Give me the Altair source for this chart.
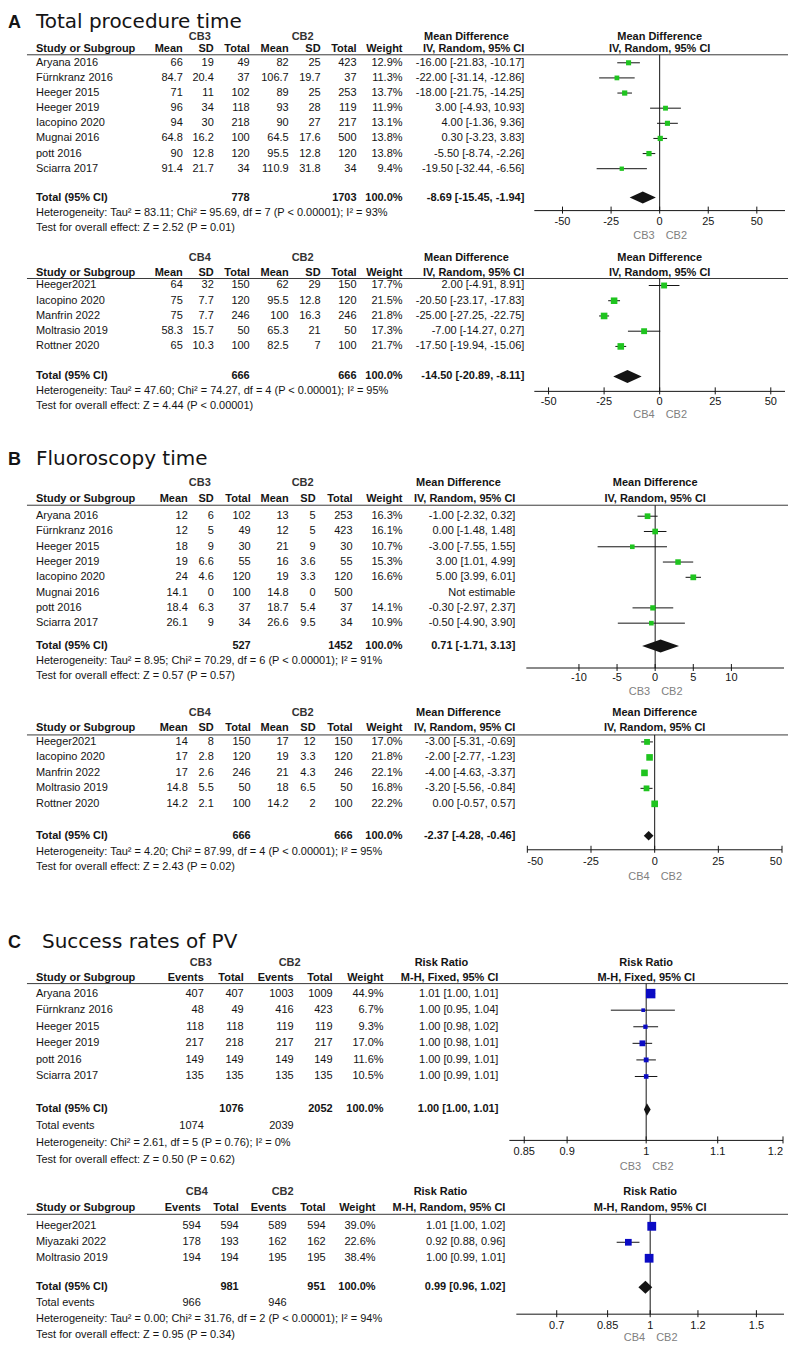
import altair as alt
import pandas as pd

# ---------------- style ----------------
FONT = "Liberation Sans"
TFONT = "DejaVu Sans"
INK = "#141414"
GREEN = "#1fc41f"
BLUE = "#0b0bc4"
GREY = "#808080"
W = 781      # width of every block (px)
P0 = 8       # page margin; layout constants below are page pixels

# ======================= DATA =======================
# ---- A upper: CB3 vs CB2, total procedure time ----
A1_study = ["Aryana 2016", "Fürnkranz 2016", "Heeger 2015", "Heeger 2019",
            "Iacopino 2020", "Mugnai 2016", "pott 2016", "Sciarra 2017"]
A1_m1 = [66, 84.7, 71, 96, 94, 64.8, 90, 91.4]
A1_sd1 = [19, 20.4, 11, 34, 30, 16.2, 12.8, 21.7]
A1_n1 = [49, 37, 102, 118, 218, 100, 120, 34]
A1_m2 = [82, 106.7, 89, 93, 90, 64.5, 95.5, 110.9]
A1_sd2 = [25, 19.7, 25, 28, 27, 17.6, 12.8, 31.8]
A1_n2 = [423, 37, 253, 119, 217, 500, 120, 34]
A1_w = [12.9, 11.3, 13.7, 11.9, 13.1, 13.8, 13.8, 9.4]
A1_md = [-16.00, -22.00, -18.00, 3.00, 4.00, 0.30, -5.50, -19.50]
A1_lo = [-21.83, -31.14, -21.75, -4.93, -1.36, -3.23, -8.74, -32.44]
A1_hi = [-10.17, -12.86, -14.25, 10.93, 9.36, 3.83, -2.26, -6.56]
A1_tot = [778, 1703]
A1_pool = [-8.69, -15.45, -1.94]
A1_het = "Heterogeneity: Tau² = 83.11; Chi² = 95.69, df = 7 (P < 0.00001); I² = 93%"
A1_test = "Test for overall effect: Z = 2.52 (P = 0.01)"

# ---- A lower: CB4 vs CB2 ----
A2_study = ["Heeger2021", "Iacopino 2020", "Manfrin 2022", "Moltrasio 2019", "Rottner 2020"]
A2_m1 = [64, 75, 75, 58.3, 65]
A2_sd1 = [32, 7.7, 7.7, 15.7, 10.3]
A2_n1 = [150, 120, 246, 50, 100]
A2_m2 = [62, 95.5, 100, 65.3, 82.5]
A2_sd2 = [29, 12.8, 16.3, 21, 7]
A2_n2 = [150, 120, 246, 50, 100]
A2_w = [17.7, 21.5, 21.8, 17.3, 21.7]
A2_md = [2.00, -20.50, -25.00, -7.00, -17.50]
A2_lo = [-4.91, -23.17, -27.25, -14.27, -19.94]
A2_hi = [8.91, -17.83, -22.75, 0.27, -15.06]
A2_tot = [666, 666]
A2_pool = [-14.50, -20.89, -8.11]
A2_het = "Heterogeneity: Tau² = 47.60; Chi² = 74.27, df = 4 (P < 0.00001); I² = 95%"
A2_test = "Test for overall effect: Z = 4.44 (P < 0.00001)"

A_ticks = [-50, -25, 0, 25, 50]
A_tick_labels = ["-50", "-25", "0", "25", "50"]

# ---- B upper: CB3 vs CB2, fluoroscopy time ----
B1_study = ["Aryana 2016", "Fürnkranz 2016", "Heeger 2015", "Heeger 2019",
            "Iacopino 2020", "Mugnai 2016", "pott 2016", "Sciarra 2017"]
B1_m1 = [12, 12, 18, 19, 24, 14.1, 18.4, 26.1]
B1_sd1 = [6, 5, 9, 6.6, 4.6, 0, 6.3, 9]
B1_n1 = [102, 49, 30, 55, 120, 100, 37, 34]
B1_m2 = [13, 12, 21, 16, 19, 14.8, 18.7, 26.6]
B1_sd2 = [5, 5, 9, 3.6, 3.3, 0, 5.4, 9.5]
B1_n2 = [253, 423, 30, 55, 120, 500, 37, 34]
B1_w = [16.3, 16.1, 10.7, 15.3, 16.6, None, 14.1, 10.9]
B1_md = [-1.00, 0.00, -3.00, 3.00, 5.00, None, -0.30, -0.50]
B1_lo = [-2.32, -1.48, -7.55, 1.01, 3.99, None, -2.97, -4.90]
B1_hi = [0.32, 1.48, 1.55, 4.99, 6.01, None, 2.37, 3.90]
B1_tot = [527, 1452]
B1_pool = [0.71, -1.71, 3.13]
B1_het = "Heterogeneity: Tau² = 8.95; Chi² = 70.29, df = 6 (P < 0.00001); I² = 91%"
B1_test = "Test for overall effect: Z = 0.57 (P = 0.57)"
B1_ticks = [-10, -5, 0, 5, 10]
B1_tick_labels = ["-10", "-5", "0", "5", "10"]

# ---- B lower: CB4 vs CB2 ----
B2_study = ["Heeger2021", "Iacopino 2020", "Manfrin 2022", "Moltrasio 2019", "Rottner 2020"]
B2_m1 = [14, 17, 17, 14.8, 14.2]
B2_sd1 = [8, 2.8, 2.6, 5.5, 2.1]
B2_n1 = [150, 120, 246, 50, 100]
B2_m2 = [17, 19, 21, 18, 14.2]
B2_sd2 = [12, 3.3, 4.3, 6.5, 2]
B2_n2 = [150, 120, 246, 50, 100]
B2_w = [17.0, 21.8, 22.1, 16.8, 22.2]
B2_md = [-3.00, -2.00, -4.00, -3.20, 0.00]
B2_lo = [-5.31, -2.77, -4.63, -5.56, -0.57]
B2_hi = [-0.69, -1.23, -3.37, -0.84, 0.57]
B2_tot = [666, 666]
B2_pool = [-2.37, -4.28, -0.46]
B2_het = "Heterogeneity: Tau² = 4.20; Chi² = 87.99, df = 4 (P < 0.00001); I² = 95%"
B2_test = "Test for overall effect: Z = 2.43 (P = 0.02)"

# ---- C upper: CB3 vs CB2, success rates of PV ----
C1_study = ["Aryana 2016", "Fürnkranz 2016", "Heeger 2015", "Heeger 2019", "pott 2016", "Sciarra 2017"]
C1_e1 = [407, 48, 118, 217, 149, 135]
C1_n1 = [407, 49, 118, 218, 149, 135]
C1_e2 = [1003, 416, 119, 217, 149, 135]
C1_n2 = [1009, 423, 119, 217, 149, 135]
C1_w = [44.9, 6.7, 9.3, 17.0, 11.6, 10.5]
C1_rr = [1.01, 1.00, 1.00, 1.00, 1.00, 1.00]
C1_rr_lo = [1.00, 0.95, 0.98, 0.98, 0.99, 0.99]
C1_rr_hi = [1.01, 1.04, 1.02, 1.01, 1.01, 1.01]
C1_pt = [1.006, 0.996, 0.999, 0.995, 1.000, 1.000]        # as drawn
C1_pt_lo = [1.000, 0.954, 0.983, 0.982, 0.987, 0.985]
C1_pt_hi = [1.012, 1.039, 1.016, 1.008, 1.013, 1.015]
C1_tot = [1076, 2052]
C1_events = [1074, 2039]
C1_pool = [1.00, 1.00, 1.01]
C1_pool_pt = [1.001, 0.997, 1.006]
C1_het = "Heterogeneity: Chi² = 2.61, df = 5 (P = 0.76); I² = 0%"
C1_test = "Test for overall effect: Z = 0.50 (P = 0.62)"
C1_ticks = [0.85, 0.9, 1, 1.1, 1.2]
C1_tick_labels = ["0.85", "0.9", "1", "1.1", "1.2"]

# ---- C lower: CB4 vs CB2 ----
C2_study = ["Heeger2021", "Miyazaki 2022", "Moltrasio 2019"]
C2_e1 = [594, 178, 194]
C2_n1 = [594, 193, 194]
C2_e2 = [589, 162, 195]
C2_n2 = [594, 162, 195]
C2_w = [39.0, 22.6, 38.4]
C2_rr = [1.01, 0.92, 1.00]
C2_rr_lo = [1.00, 0.88, 0.99]
C2_rr_hi = [1.02, 0.96, 1.01]
C2_pt = [1.006, 0.92, 0.996]
C2_pt_lo = [1.00, 0.88, 0.99]
C2_pt_hi = [1.02, 0.96, 1.01]
C2_tot = [981, 951]
C2_events = [966, 946]
C2_pool = [0.99, 0.96, 1.02]
C2_pool_pt = [0.982, 0.956, 1.008]
C2_het = "Heterogeneity: Tau² = 0.00; Chi² = 31.76, df = 2 (P < 0.00001); I² = 94%"
C2_test = "Test for overall effect: Z = 0.95 (P = 0.34)"
C2_ticks = [0.7, 0.85, 1, 1.2, 1.5]
C2_tick_labels = ["0.7", "0.85", "1", "1.2", "1.5"]

# ======================= LAYOUT (page px) =======================
LA1 = dict(top=8, bot=242, first=62, step=15.15, title=27, group=36.5, colhdr=48, line=54,
           total=197, het=212, test=227, axis=210, ticks=221, cblab=235)
LA2 = dict(top=242, bot=432, first=285, step=15.25, group=257, colhdr=272, line=278,
           total=376, het=391, test=406, axis=391, ticks=402, cblab=415)
LB1 = dict(top=432, bot=700, first=516, step=15.3, title=464.5, group=483, colhdr=499, line=505,
           total=646, het=661, test=676, axis=668, ticks=678, cblab=692)
LB2 = dict(top=700, bot=920, first=742, step=15.5, group=713, colhdr=728, line=735,
           total=836, het=852, test=867, axis=850, ticks=862, cblab=877)
LC1 = dict(top=920, bot=1180, first=994, step=16.6, title=948.5, group=963, colhdr=978, line=984,
           total=1110, tevents=1127, het=1144, test=1161, axis=1141, ticks=1153, cblab=1168)
LC2 = dict(top=1180, bot=1345, first=1227, step=16, group=1193, colhdr=1209, line=1215,
           total=1288, tevents=1304, het=1320, test=1336, axis=1315, ticks=1327, cblab=1339)

CA = dict(study=36, m1=183, sd1=214, n1=250, m2=289, sd2=321, n2=357, w=403, ci=525,
          g1=200, g2=303, lh=467, letter=8, title=36)
CB = dict(study=36, m1=188, sd1=214, n1=251, m2=289, sd2=316, n2=353, w=403, ci=516,
          g1=200, g2=303, lh=459, letter=8, title=36)
CC1 = dict(study=36, e1=204, n1=244, e2=294, n2=333, w=384, ci=499, g1=201, g2=290, lh=442,
           letter=8, title=42)
CC2 = dict(study=36, e1=201, n1=239, e2=287, n2=326, w=376, ci=506, g1=197, g2=283, lh=441)


# ======================= helpers =======================
def fmt(v):
    return f"{v:g}"


def ci_txt(e, l, h):
    return f"{e:.2f} [{l:.2f}, {h:.2f}]"


def ry(L, y):
    return (y - L["first"]) / L["step"]


def add(items, x, y, t, align="right", bold=False, size=11, color=INK, font=FONT,
        baseline="middle", dx=0):
    items.append(dict(x=x, y=y, t=str(t), align=align, bold=bold, size=size, color=color,
                      font=font, baseline=baseline, dx=dx))


def text_layers(items, xs, ys):
    groups = {}
    for it in items:
        key = (it["align"], it["bold"], it["size"], it["color"], it["font"], it["baseline"], it["dx"])
        groups.setdefault(key, []).append(it)
    out = []
    for (al, b, s, c, f, bl, dx), its in groups.items():
        df = pd.DataFrame({"x": [i["x"] for i in its], "y": [i["y"] for i in its],
                           "t": [i["t"] for i in its]})
        out.append(alt.Chart(df).mark_text(
            align=al, baseline=bl, font=f, fontSize=s,
            fontWeight="bold" if b else "normal", color=c, dx=dx).encode(
            x=alt.X("x:Q", scale=xs, axis=None),
            y=alt.Y("y:Q", scale=ys, axis=None),
            text="t:N"))
    return out


def title_items(it, L, C, title):
    add(it, C["letter"], ry(L, L["title"]), title[0], "left", True, 18, baseline="alphabetic")
    add(it, C["title"], ry(L, L["title"]), title[1], "left", False, 20, font=TFONT,
        baseline="alphabetic")


def md_table(L, C, grp, study, m1, sd1, n1, m2, sd2, n2, w, md, lo, hi, tot, pool, het, test,
             title=None):
    it = []
    if title:
        title_items(it, L, C, title)
    g = ry(L, L["group"])
    add(it, C["g1"], g, grp[0], "center", True, color="#333333")
    add(it, C["g2"], g, grp[1], "center", True, color="#333333")
    add(it, C["lh"], g, "Mean Difference", "center", True)
    h = ry(L, L["colhdr"])
    add(it, C["study"], h, "Study or Subgroup", "left", True)
    for k, lab in zip(["m1", "sd1", "n1", "m2", "sd2", "n2", "w", "ci"],
                      ["Mean", "SD", "Total", "Mean", "SD", "Total", "Weight", "IV, Random, 95% CI"]):
        add(it, C[k], h, lab, bold=True)
    for i, s in enumerate(study):
        add(it, C["study"], i, s, "left")
        for k, arr in zip(["m1", "sd1", "n1", "m2", "sd2", "n2"], [m1, sd1, n1, m2, sd2, n2]):
            add(it, C[k], i, fmt(arr[i]))
        if md[i] is None:
            add(it, C["ci"], i, "Not estimable")
        else:
            add(it, C["w"], i, f"{w[i]:.1f}%")
            add(it, C["ci"], i, ci_txt(md[i], lo[i], hi[i]))
    t = ry(L, L["total"])
    add(it, C["study"], t, "Total (95% CI)", "left", True)
    add(it, C["n1"], t, tot[0], bold=True)
    add(it, C["n2"], t, tot[1], bold=True)
    add(it, C["w"], t, "100.0%", bold=True)
    add(it, C["ci"], t, ci_txt(*pool), bold=True)
    add(it, C["study"], ry(L, L["het"]), het, "left")
    add(it, C["study"], ry(L, L["test"]), test, "left")
    return it


def rr_table(L, C, grp, method, study, e1, n1, e2, n2, w, rr, lo, hi, tot, events, pool, het,
             test, title=None):
    it = []
    if title:
        title_items(it, L, C, title)
    g = ry(L, L["group"])
    add(it, C["g1"], g, grp[0], "center", True, color="#333333")
    add(it, C["g2"], g, grp[1], "center", True, color="#333333")
    add(it, C["lh"], g, "Risk Ratio", "center", True)
    h = ry(L, L["colhdr"])
    add(it, C["study"], h, "Study or Subgroup", "left", True)
    for k, lab in zip(["e1", "n1", "e2", "n2", "w", "ci"],
                      ["Events", "Total", "Events", "Total", "Weight", method]):
        add(it, C[k], h, lab, bold=True)
    for i, s in enumerate(study):
        add(it, C["study"], i, s, "left")
        for k, arr in zip(["e1", "n1", "e2", "n2"], [e1, n1, e2, n2]):
            add(it, C[k], i, fmt(arr[i]))
        add(it, C["w"], i, f"{w[i]:.1f}%")
        add(it, C["ci"], i, ci_txt(rr[i], lo[i], hi[i]))
    t = ry(L, L["total"])
    add(it, C["study"], t, "Total (95% CI)", "left", True)
    add(it, C["n1"], t, tot[0], bold=True)
    add(it, C["n2"], t, tot[1], bold=True)
    add(it, C["w"], t, "100.0%", bold=True)
    add(it, C["ci"], t, ci_txt(*pool), bold=True)
    te = ry(L, L["tevents"])
    add(it, C["study"], te, "Total events", "left")
    add(it, C["e1"], te, events[0])
    add(it, C["e2"], te, events[1])
    add(it, C["study"], ry(L, L["het"]), het, "left")
    add(it, C["study"], ry(L, L["test"]), test, "left")
    return it


def make_block(L, items, F):
    ys = alt.Scale(domain=[ry(L, L["top"]), ry(L, L["bot"])], reverse=True, nice=False, zero=False)
    xt = alt.Scale(domain=[P0, P0 + W], range=[0, W], nice=False, zero=False)
    hl = pd.DataFrame({"x": [27], "x2": [P0 + W], "y": [ry(L, L["line"])]})
    table = alt.layer(
        alt.Chart(hl).mark_rule(color="#3a3a3a", strokeWidth=1).encode(
            x=alt.X("x:Q", scale=xt, axis=None), x2="x2:Q",
            y=alt.Y("y:Q", scale=ys, axis=None)),
        *text_layers(items, xt, ys))

    xf = alt.Scale(type=F["type"], domain=F["domain"],
                   range=[F["range"][0] - P0, F["range"][1] - P0], nice=False, zero=False)

    def X(f):
        return alt.X(f, scale=xf, axis=None)

    def Y(f):
        return alt.Y(f, scale=ys, axis=None)

    n = len(F["est"])
    pts = pd.DataFrame({"y": list(range(n)), "est": F["est"], "lo": F["lo"], "hi": F["hi"],
                        "w": F["w"]}).dropna()
    ref = pd.DataFrame({"x": [F["ref"]], "y": [ry(L, L["line"])], "y2": [ry(L, L["axis"])]})
    e, l, h = F["pool"]
    yt = ry(L, L["total"])
    hh = F["dh"] / L["step"]
    dia = pd.DataFrame({"x": [l, e, h], "y": [yt, yt - hh, yt], "y2": [yt, yt + hh, yt]})
    d0, d1 = F["domain"]
    ax = pd.DataFrame({"x": [d0], "x2": [d1], "y": [ry(L, L["axis"])]})
    k = len(F["ticks"])
    tk = pd.DataFrame({"x": F["ticks"], "y": [ry(L, L["axis"] - 4)] * k,
                       "y2": [ry(L, L["axis"] + 3)] * k})

    fi = []
    add(fi, F["ref"], ry(L, L["group"]), F["head"][0], "center", True)
    add(fi, F["ref"], ry(L, L["colhdr"]), F["head"][1], "center", True)
    for v, lab in zip(F["ticks"], F["tick_labels"]):
        al = "left" if v == d0 else ("right" if v == d1 else "center")
        add(fi, v, ry(L, L["ticks"]), lab, al)
    add(fi, F["ref"], ry(L, L["cblab"]), F["side"][0], "right", color=GREY, dx=-5)
    add(fi, F["ref"], ry(L, L["cblab"]), F["side"][1], "left", color=GREY, dx=6)

    forest = alt.layer(
        alt.Chart(ref).mark_rule(color=INK, strokeWidth=1).encode(x=X("x:Q"), y=Y("y:Q"), y2="y2:Q"),
        alt.Chart(pts).mark_rule(color=INK, strokeWidth=1).encode(x=X("lo:Q"), x2="hi:Q", y=Y("y:Q")),
        alt.Chart(pts).mark_square(filled=True, opacity=1, color=F["color"]).encode(
            x=X("est:Q"), y=Y("y:Q"),
            size=alt.Size("w:Q", scale=alt.Scale(domain=[0, 100], range=[0, F["S"]]), legend=None)),
        alt.Chart(dia).mark_area(color=INK, opacity=1, orient="vertical").encode(
            x=X("x:Q"), y=Y("y:Q"), y2="y2:Q"),
        alt.Chart(ax).mark_rule(color=INK, strokeWidth=1).encode(x=X("x:Q"), x2="x2:Q", y=Y("y:Q")),
        alt.Chart(tk).mark_rule(color=INK, strokeWidth=1).encode(x=X("x:Q"), y=Y("y:Q"), y2="y2:Q"),
        *text_layers(fi, xf, ys))

    return alt.layer(table, forest).resolve_scale(x="independent").properties(
        width=W, height=L["bot"] - L["top"])


MD_HEAD = ("Mean Difference", "IV, Random, 95% CI")

bA1 = make_block(
    LA1,
    md_table(LA1, CA, ("CB3", "CB2"), A1_study, A1_m1, A1_sd1, A1_n1, A1_m2, A1_sd2, A1_n2,
             A1_w, A1_md, A1_lo, A1_hi, A1_tot, A1_pool, A1_het, A1_test,
             title=("A", "Total procedure time")),
    dict(type="linear", domain=[-64.5, 64.5], range=[535, 786], ref=0, ticks=A_ticks,
         tick_labels=A_tick_labels, color=GREEN, S=200, dh=6, head=MD_HEAD, side=("CB3", "CB2"),
         est=A1_md, lo=A1_lo, hi=A1_hi, w=A1_w, pool=A1_pool))

bA2 = make_block(
    LA2,
    md_table(LA2, CA, ("CB4", "CB2"), A2_study, A2_m1, A2_sd1, A2_n1, A2_m2, A2_sd2, A2_n2,
             A2_w, A2_md, A2_lo, A2_hi, A2_tot, A2_pool, A2_het, A2_test),
    dict(type="linear", domain=[-56.4, 56.4], range=[535, 786], ref=0, ticks=A_ticks,
         tick_labels=A_tick_labels, color=GREEN, S=170, dh=6.5, head=MD_HEAD, side=("CB4", "CB2"),
         est=A2_md, lo=A2_lo, hi=A2_hi, w=A2_w, pool=A2_pool))

bB1 = make_block(
    LB1,
    md_table(LB1, CB, ("CB3", "CB2"), B1_study, B1_m1, B1_sd1, B1_n1, B1_m2, B1_sd2, B1_n2,
             B1_w, B1_md, B1_lo, B1_hi, B1_tot, B1_pool, B1_het, B1_test,
             title=("B", "Fluoroscopy time")),
    dict(type="linear", domain=[-16.9, 16.9], range=[527, 785], ref=0, ticks=B1_ticks,
         tick_labels=B1_tick_labels, color=GREEN, S=160, dh=6.5, head=MD_HEAD, side=("CB3", "CB2"),
         est=B1_md, lo=B1_lo, hi=B1_hi, w=B1_w, pool=B1_pool))

bB2 = make_block(
    LB2,
    md_table(LB2, CB, ("CB4", "CB2"), B2_study, B2_m1, B2_sd1, B2_n1, B2_m2, B2_sd2, B2_n2,
             B2_w, B2_md, B2_lo, B2_hi, B2_tot, B2_pool, B2_het, B2_test),
    dict(type="linear", domain=[-50, 50], range=[528, 783], ref=0, ticks=A_ticks,
         tick_labels=A_tick_labels, color=GREEN, S=200, dh=4.7, head=MD_HEAD, side=("CB4", "CB2"),
         est=B2_md, lo=B2_lo, hi=B2_hi, w=B2_w, pool=B2_pool))

bC1 = make_block(
    LC1,
    rr_table(LC1, CC1, ("CB3", "CB2"), "M-H, Fixed, 95% CI", C1_study, C1_e1, C1_n1, C1_e2,
             C1_n2, C1_w, C1_rr, C1_rr_lo, C1_rr_hi, C1_tot, C1_events, C1_pool, C1_het,
             C1_test, title=("C", "Success rates of PV")),
    dict(type="log", domain=[1 / 1.2, 1.2], range=[510, 784], ref=1, ticks=C1_ticks,
         tick_labels=C1_tick_labels, color=BLUE, S=180, dh=6.3,
         head=("Risk Ratio", "M-H, Fixed, 95% CI"), side=("CB3", "CB2"),
         est=C1_pt, lo=C1_pt_lo, hi=C1_pt_hi, w=C1_w, pool=C1_pool_pt))

bC2 = make_block(
    LC2,
    rr_table(LC2, CC2, ("CB4", "CB2"), "M-H, Random, 95% CI", C2_study, C2_e1, C2_n1, C2_e2,
             C2_n2, C2_w, C2_rr, C2_rr_lo, C2_rr_hi, C2_tot, C2_events, C2_pool, C2_het,
             C2_test),
    dict(type="log", domain=[0.6, 1 / 0.6], range=[517, 785], ref=1, ticks=C2_ticks,
         tick_labels=C2_tick_labels, color=BLUE, S=137, dh=6.5,
         head=("Risk Ratio", "M-H, Random, 95% CI"), side=("CB4", "CB2"),
         est=C2_pt, lo=C2_pt_lo, hi=C2_pt_hi, w=C2_w, pool=C2_pool_pt))

chart = alt.vconcat(bA1, bA2, bB1, bB2, bC1, bC2, spacing=0).properties(
    padding=0, background="white").configure_view(strokeWidth=0)

chart.save("out.html", embed_options={"renderer": "svg", "actions": False})
